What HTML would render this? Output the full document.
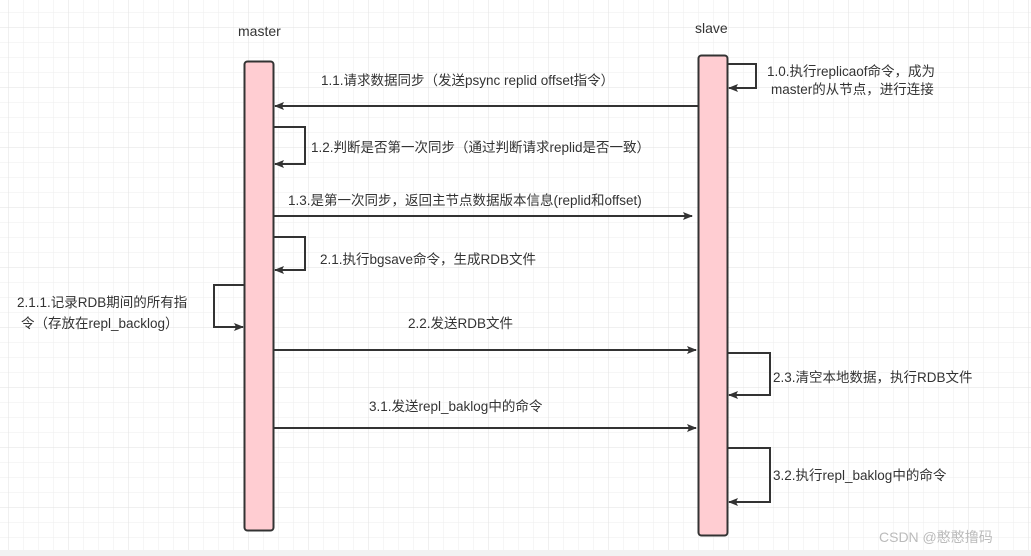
<!DOCTYPE html>
<html><head><meta charset="utf-8"><style>
html,body{margin:0;padding:0;}
body{width:1031px;height:556px;overflow:hidden;background:#fff;position:relative;}
</style></head><body>
<svg width="1031" height="556" viewBox="0 0 1031 556" xmlns="http://www.w3.org/2000/svg" style="position:absolute;left:0;top:0">
<defs>
<pattern id="g" x="8" y="12" width="15" height="15" patternUnits="userSpaceOnUse">
<path d="M0 0H15M0 0V15" stroke="#eeeeee" stroke-width="1" fill="none"/>
</pattern>
<pattern id="G" x="8" y="27" width="60" height="60" patternUnits="userSpaceOnUse">
<path d="M0 0H60M0 0V60" stroke="#e2e2e2" stroke-width="1" fill="none"/>
</pattern>
<marker id="a" markerWidth="10" markerHeight="8" refX="9" refY="4" orient="auto" markerUnits="userSpaceOnUse">
<path d="M0 0L10 4L0 8L2 4Z" fill="#333"/>
</marker>
</defs>
<rect width="1031" height="556" fill="url(#g)"/>
<rect width="1031" height="556" fill="url(#G)"/>
<rect x="0" y="550" width="1031" height="6" fill="#f2f2f2"/>
<g font-family="Liberation Sans, Noto Sans CJK SC, sans-serif" font-size="14" fill="#333">
<text x="238" y="36">master</text>
<text x="695" y="33">slave</text>
</g>
<rect x="244.5" y="61.5" width="29" height="469" rx="3" fill="#ffcdd2" stroke="#333" stroke-width="2"/>
<rect x="698.5" y="55.5" width="29" height="480" rx="3" fill="#ffcdd2" stroke="#333" stroke-width="2"/>
<g stroke="#333" stroke-width="2" fill="none" marker-end="url(#a)">
<path d="M728 64H756V88H729"/>
<path d="M698 106H275"/>
<path d="M274 127H305V164H275"/>
<path d="M274 216H692"/>
<path d="M274 237H305V270H275"/>
<path d="M244 285H214V327H243"/>
<path d="M274 350H696"/>
<path d="M728 353H770V395H729"/>
<path d="M274 428H696"/>
<path d="M728 448H770V502H729"/>
</g>
<g font-family="Liberation Sans, Noto Sans CJK SC, sans-serif" font-size="13.5" fill="#333">
<text x="321" y="85">1.1.请求数据同步（发送psync replid offset指令）</text>
<text x="767" y="76">1.0.执行replicaof命令，成为</text>
<text x="771" y="94">master的从节点，进行连接</text>
<text x="311" y="152">1.2.判断是否第一次同步（通过判断请求replid是否一致）</text>
<text x="288" y="205">1.3.是第一次同步，返回主节点数据版本信息(replid和offset)</text>
<text x="320" y="264">2.1.执行bgsave命令，生成RDB文件</text>
<text x="17" y="307">2.1.1.记录RDB期间的所有指</text>
<text x="21" y="328">令（存放在repl_backlog）</text>
<text x="408" y="328">2.2.发送RDB文件</text>
<text x="773" y="382">2.3.清空本地数据，执行RDB文件</text>
<text x="369" y="411">3.1.发送repl_baklog中的命令</text>
<text x="773" y="480">3.2.执行repl_baklog中的命令</text>
</g>
<text x="879" y="542" font-family="Liberation Sans, Noto Sans CJK SC, sans-serif" font-size="14" fill="#bbb">CSDN @憨憨撸码</text>
</svg>
</body></html>
